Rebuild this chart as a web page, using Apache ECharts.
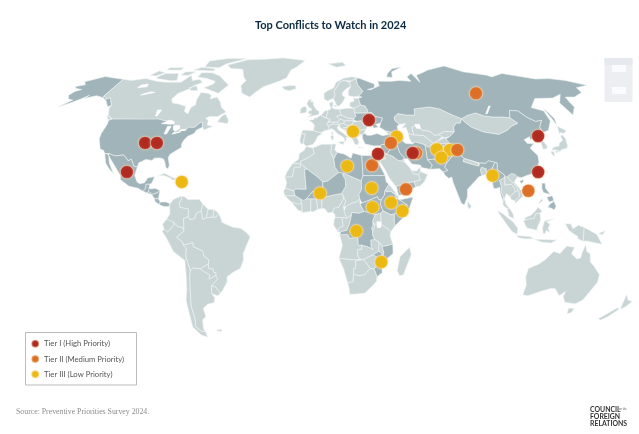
<!DOCTYPE html>
<html><head><meta charset="utf-8">
<style>html,body{margin:0;padding:0;background:#fff}#c{width:639px;height:434px}</style>
<script src="https://cdn.jsdelivr.net/npm/echarts@6/dist/echarts.min.js"></script>
</head><body><div id="c"></div>
<script>
// Marker positions [lon, lat]
const tierI = [[-96.8,37.5],[-90.1,37.5],[-102.3,23.7],[31.5,48.5],[34,32.3],[53.3,32.7],[127.1,40.8],[119.6,23.7]];
const tierII = [[107.2,62],[42,37.5],[55.1,32.7],[78.4,34.2],[30.2,26.9],[47.6,15.5],[112.6,14.8]];
const tierIII = [[-72.1,19],[1.9,13.6],[21.2,43],[45.9,40.5],[67,34.5],[74.3,34.2],[68.6,30.6],[16.7,26.5],[29.4,16.1],[29.6,7],[39.4,9.2],[45.3,5.2],[21,-4.3],[34.7,-19],[94.7,22]];
const tierNames = ['Tier I (High Priority)','Tier II (Medium Priority)','Tier III (Low Priority)'];
const tierColors = ['#b02a20','#dd6f26','#ecb912'];
const titleText = 'Top Conflicts to Watch in 2024';
const sourceText = 'Source: Preventive Priorities Survey 2024.';

// Country outlines, "lon lat lon lat ..." per polygon
const darkLand = {
USA:['-124.7 48.4 -123 49 -95.2 49 -94.6 48.7 -91 48.2 -88.4 48.3 -84.8 46.9 -83.5 46 -82.5 45.3 -82.4 43 -83 42 -79 42.8 -79 43.4 -76.5 43.6 -75 45 -71.5 45 -69.2 47.4 -68 47.2 -67 45 -70 43.7 -70.7 42 -74 40.6 -75.5 38.5 -76 37 -75.6 35.3 -78 33.9 -81 32 -81.4 30.5 -80 26.8 -80.4 25.2 -81.8 26 -82.8 28.5 -84 30 -86 30.4 -89 30.3 -90 29.2 -93.5 29.7 -97 28 -97.2 26 -99.2 26.5 -101.4 29.8 -103 29 -104.8 30.6 -106.5 31.8 -111 31.3 -114.8 32.5 -117.1 32.5 -118.5 34 -120.6 34.6 -122 36.8 -123.8 39.5 -124.3 42 -124 46.2',
 '-141 69.6 -141 60.3 -139 60 -137.5 58.9 -135.5 59.7 -133.5 58.2 -130.3 56 -131.5 55 -134 56.5 -136.5 58.2 -140 59.7 -146 60.7 -149 60 -152 59.3 -151 61 -154 59 -158 57 -163 55 -158.5 58.5 -162 59 -165 61 -164 63 -161 64 -166 64.6 -168 65.6 -163 66.6 -166.5 68.3 -157 71.2 -150 70.5'],
Mexico:['-114.8 32.5 -111 31.3 -106.5 31.8 -104.8 30.6 -103 29 -101.4 29.8 -99.2 26.5 -97.2 26 -97.8 22 -96 19 -94.5 18.2 -92 18.6 -90.5 21 -87 21.5 -88 18.5 -89 17.9 -91 17.9 -91 16 -92.2 14.6 -95 16 -100 17 -105 20 -105.5 22 -109 26 -112.5 29.5 -114.7 31.7','-117.1 32.5 -114.8 32 -113 28 -110.5 24.5 -109.5 23 -112 25 -115 28'],
Guatemala:['-92.2 14.6 -91 16 -91 17.9 -89 17.9 -89.2 15.9 -88.2 15.7 -89.3 14.4 -90 13.8'],
Honduras:['-89.2 15.9 -88.2 15.7 -86 16 -83.2 15 -84.5 13.9 -87.5 13 -89.3 14.4'],
Salvador:['-90 13.8 -89.3 14.4 -87.7 13.8 -88 13.2'],
Nicaragua:['-87.5 13 -84.5 13.9 -83.2 15 -83.7 11 -85.7 11.1'],
CostaRica:['-85.7 11.1 -83.7 11 -82.6 9.5 -83 8.2 -85.5 9.8'],
Panama:['-83 8.2 -82.6 9.5 -79.5 9.5 -77.4 8.6 -78 7.3 -80.5 7.3'],
Haiti:['-74.4 18.4 -71.7 18 -71.7 19.9 -73.3 19.9'],
Ukraine:['24 50.5 22.5 49.1 22.5 48.4 24.5 47.9 26.7 48.3 28.2 46 29.7 45.2 30.8 46.5 33 46 33.5 44.6 36.5 45.2 35 46.3 38.2 47.1 40 49.5 35.5 50.4 34 52.3 30.8 52 25 51.9 23.5 52'],
Kosovo:['20 43 20.7 43.2 21.7 42.5 20.6 42'],
Russia:['29 69.9 31 70.3 41 67 40 65 35 64 37 63.9 44 66 44 68.5 54 68.5 60 69 68 68.5 67 71 72 73 74 68 75 72 81 73.5 87 75 104 77.7 113 74 128 72 130 71 141 73 160 69.8 170 70 180 69 190 66.3 180 65 179 62.5 170 60 164 60 163 57.5 162.5 55 156.7 51 156 57 163 61.5 155 59.5 143 59.3 135 54.7 141 53 140 48 135 43.5 131 42.5 130.6 42.3 131 43 131 45 135 48.4 131 47.8 127.5 49.8 125 53 120 53.3 117 49.6 113 50 107 50 102 50.5 98 52 92 50.8 87.5 49.2 83 51 77 54 71 55 61 54 60 51 54.5 51 50 51.7 47 49.9 47 48.2 49 46.5 47.5 45.5 47.5 43.5 48.5 41.8 46.5 41.8 43.8 42.6 40 43.4 37 45 38.2 47.1 40 49.5 35.5 50.4 34 52.3 30.8 52 32 53 30.8 55.5 28 56 27.5 59.4 30 60 27.9 60.5 31.5 63 29 66.9','142 54.3 143 52 143.5 49 142 46 142 49','52 71 56 70.7 58 74 68 76.8 60 76 54 73'],
China:['73.7 39.5 76 40.4 80 42.8 80.5 45 83 47 85.5 47 87.5 49.2 88 48 91 45 97 42.7 105 41.6 111 43.5 115 45.5 119.8 47 117 49.6 120 53.3 125 53 127.5 49.8 131 47.8 135 48.4 131 45 131 43 130.6 42.3 126 41 124.3 39.9 121.5 39 122 40.5 118 39 119 37.3 122.5 37.3 119.3 35 122 31.5 121.5 28.5 119 25 116.5 23 113 22 110 21 108 21.5 106.7 22.7 105 23 101.8 21.2 101 22.4 98.8 24 97.7 24.7 98.5 28 94 29 92 27.8 88.9 28 81 30.2 78.5 32.5 78 35.5 75 37.3','108.7 19.3 110.5 20 111 19.5 109.5 18.2'],
Taiwan:['120 23 121.2 25.2 122 25 120.9 22'],
NKorea:['124.3 39.9 126 41 130.6 42.3 129.7 41 127.5 39.8 128.4 38.6 126.7 38 125 37.8 125.4 39.4'],
Turkey:['26.3 41.5 28 42 29 41.2 31.5 41.2 35 42 38 41 41.5 41.5 43.5 41 44.8 39.7 44.5 37.8 42.4 37.1 36.5 36.7 36 36.2 32 36.1 30 36.5 27.4 37 26.3 39.5'],
Armenia:['43.5 41 45 41.3 46.5 39 44.8 39.7'],
Azerbaijan:['46.5 41.8 48.5 41.8 50 40.3 49 38.4 46.5 39 45 41.3'],
Iran:['44.8 39.7 46.5 39 49 38.4 50 37.4 54 37 54 37.4 56 38 61 36.6 61 34 60.8 31.5 60.8 29.5 63 27 61.5 25 57 25.8 56.5 27 52 27.5 50 30 48.5 30 46 33 45.4 35.8 44.5 37.8'],
Iraq:['42.4 37.1 44.5 37.8 45.4 35.8 46 33 48.5 30 47.7 29.9 46.5 29.1 44.7 29.2 42 31.2 39 32.3 41 34.5 41.2 36.7'],
Syria:['36 36.2 36.5 36.7 42.4 37.1 41.2 36.7 41 34.5 39 32.3 36 33.3 35.9 35'],
Lebanon:['35.1 33.1 36 33.3 35.9 35'],
Israel:['34.3 31.3 35.1 33.1 35.7 33 35.5 31 35 29.5'],
Yemen:['43.3 17.3 45 17.4 49 18.6 52 19 53 16.7 48 14 45 12.8 43.5 12.7 42.7 16.4'],
Afghanistan:['61 36.6 62.5 35.3 66 37.3 68 37 71.5 37 74.9 37.3 71 36 71 34 69.5 33 69 31.5 66.5 31 66.3 29.9 60.8 29.5 60.8 31.5 61 34'],
Pakistan:['61.5 25 63 27 60.8 29.5 66.3 29.9 66.5 31 69 31.5 69.5 33 71 34 71 36 74.9 37.3 77.5 35.5 74.5 33 74.5 31 71 28 69.5 26 71 24.5 68.5 23.7 66.5 25.3'],
India:['77.5 35.5 78 35.5 78.5 32.5 81 30.2 80 28.7 84 27.5 88.2 26.5 88.9 28 92 27.8 94 29 97.5 28.3 94 24 93 22 92.5 23.7 91.5 24 92 25.2 89.5 26 88.5 24.5 89 22 87 21.3 85 19.5 80.3 15.5 80 12 78 8 76.5 9 73 19 72.7 21.3 71 20.7 69 22.3 68.5 23.7 71 24.5 69.5 26 71 28 74.5 31 74.5 33'],
Myanmar:['97.5 28.3 98.5 28 97.7 24.7 98.8 24 101 22.4 101 21.2 98 19.8 98.5 17 98 14 98.9 12 98.5 10 97.5 14 97.7 16.5 95.5 15.8 94.3 16 94 19 92.3 21 92.5 23.7 93 22 94 24'],
Philippines:['120.5 18.5 122.2 18.4 122 16 124 13 120.5 14 120 16','122 7 123.5 8.6 125.5 9.8 126.5 7.5 125.4 5.7 124 6.5','122 11.8 125 12.5 125.5 10.2 123 9.5','117.3 8.4 119.5 11.3 119.3 10'],
Libya:['11.5 33 15.2 32.3 19 30.3 20 32.7 25 31.6 25 22 24 19.5 15 23 12 23.5 10 26 9.5 30'],
Egypt:['25 31.6 31 31.4 34.3 31.3 35 28 33 29.5 36.9 22 31.5 22 25 22'],
Sudan:['24 19.5 25 22 31.5 22 36.9 22 37.3 19 38.6 18 36.5 15 36 12.7 34.3 10.5 33 10.5 32.3 12 27 10 24 9 22.9 11 22.5 13 24 15.5'],
SSudan:['24 9 27 10 32.3 12 33 10.5 34.3 10.5 33.8 8.5 35 5.4 33.8 4.2 30.8 3.5 28 4.5 25 5 23 8.5'],
Ethiopia:['36 12.7 36.5 15 37 14.3 39.5 14.5 42 12.8 42 11 43.2 11 48 8 44 4.9 41.5 3.9 39 3.5 35 5.4 33.8 8.5 34.3 10.5'],
Somalia:['43.2 11 44 10.5 51.2 11.9 49 6.5 46 2.4 41.5 -1.7 41 -0.8 41 3.9 41.5 3.9 44 4.9 48 8'],
DRC:['12.2 -6 13 -4.5 16 -4 17.5 -0.5 18.5 3.5 18.6 4.5 22.5 4.1 25 5 28 4.5 30.8 3.5 29.6 0.6 29.7 -1.4 29 -3 29.6 -4.5 29.5 -6 30.7 -8.3 28.7 -8.5 28.9 -12 30 -13 27.2 -11.8 24 -10.9 22 -11 22 -9.5 21.7 -7.2 17.5 -7.8 16.5 -5.9'],
Niger:['3.3 19 6 19.4 12 23.5 15 23 14 22.5 15.5 20 15.5 16.8 13.5 14 14 12.7 13 13.5 9 12.8 3.7 11.7 2.8 12.4 1 12.9 0.2 14.9 3.3 15.4'],
Mali:['-4.9 25 1 21 3.3 19 3.3 15.4 0.2 14.9 -2 14.3 -3 13.5 -5.3 11 -7 10.2 -8.5 11 -11.3 12.4 -12 14.7 -11.5 15.6 -5.5 15.5 -6.5 25'],
Burkina:['0.2 14.9 1 12.9 2.8 12.4 2.3 11.7 0 11 -3 11 -5.3 11 -3 13.5 -2 14.3'],
Mozambique:['34.7 -11.5 36 -11.5 40.4 -10.5 40.7 -15 37 -18 34.9 -20 35.5 -24 32.8 -26 32 -24 31 -22.3 32.8 -20.5 33 -17 30 -15.5 33 -14 34.5 -14.5 35.2 -17 35.8 -14.5']
};
const lightLand = {
Canada:['-141 69.6 -134 69 -125 70 -115 68.5 -108 68 -97 68 -94 72 -90 69 -85 69.5 -81.5 68 -86 66 -87 64.5 -93 62 -94.5 59 -92.5 57 -88 56.5 -82.5 55.2 -82 52.9 -79 51.5 -79 54.7 -77 56 -78 58.7 -78 62.4 -73 62 -70 61 -69.5 59 -65.5 60 -62 57.5 -60 55 -56 52.5 -60 50.2 -65 50.3 -67 49.3 -65 48.5 -64.5 46 -61 45.5 -65.5 43.7 -67 45 -68 47.2 -69.2 47.4 -71.5 45 -75 45 -76.5 43.6 -79 43.4 -79 42.8 -83 42 -82.4 43 -82.5 45.3 -83.5 46 -84.8 46.9 -88.4 48.3 -91 48.2 -94.6 48.7 -95.2 49 -123 49 -127 50.8 -130 54.3 -130.3 56 -133.5 58.2 -135.5 59.7 -137.5 58.9 -139 60 -141 60.3','-62 66.5 -66 62 -72 63.5 -78 65 -73 67 -73 68.5 -80 70 -88 71 -88 73.5 -80 73.5 -72 71.5 -67 69','-117 70 -105 68.8 -101 69 -105 73 -115 73 -118 71','-125 72 -120 71.5 -116 73.5 -122 74.5','-90 77 -78 76.5 -75 79 -65 82 -62 83 -78 83 -92 81','-96 75 -80 74.5 -80 75.8 -92 76.8','-117 75 -106 75 -106 76.5 -117 76.5','-102 72 -96 72 -93 74 -101 73.9','-86 63.5 -81 63.5 -84 66 -88 65','-59.3 47.7 -53 46.7 -52.8 48.5 -56 51.5 -57.5 50.5','-128 50.8 -125 50 -123.5 48.5 -125.5 48.8'],
Greenland:['-73 78.2 -68 76 -58 75.5 -54 71 -51 69 -53 66 -50 62 -44 60 -42 62 -37 65.5 -27 68.5 -22 70.5 -20 75 -16 77 -10 81.5 -30 83.5 -45 82.5 -60 82 -65 80.5'],
Iceland:['-24 65.5 -22 64 -18.5 63.4 -14 64.5 -15 66.2 -20 66'],
Cuba:['-84.9 21.9 -82 23.1 -77 21 -74.2 20.2 -77.5 19.9 -78 20.7 -82 22'],
Dominican:['-71.7 18 -68.4 18.5 -69.5 19.8 -71.7 19.9'],
Colombia:['-77.4 8.6 -75.5 10.8 -72 12.2 -71.3 11 -72.5 9 -72 7 -67.5 6.2 -67.5 2.5 -70 1.7 -69.8 -4.2 -70.8 -2.5 -73 -2.3 -75.2 -0.1 -77.5 0.4 -78.8 1.4 -77.2 4 -77.5 7'],
Venezuela:['-72 12.2 -70 12 -68 10.7 -62 10.7 -60 8.5 -60.8 5.2 -63.5 4 -64 1.5 -66.8 1.2 -67.5 2.5 -67.5 6.2 -72 7 -72.5 9 -71.3 11'],
Guyana:['-60 8.5 -57.2 6 -58 2 -60 1.2 -60.8 5.2'],
Suriname:['-57.2 6 -54 5.8 -54.5 2.3 -58 2'],
Guiana:['-54 5.8 -51.6 4.2 -52.8 2.3 -54.5 2.3'],
Ecuador:['-78.8 1.4 -75.2 -0.1 -75.2 -1.5 -78.4 -4.8 -80.3 -3.4 -81 -1'],
Peru:['-80.3 -3.4 -78.4 -4.8 -75.2 -1.5 -75.2 -0.1 -73 -2.3 -70.8 -2.5 -69.8 -4.2 -73.9 -7.3 -70.6 -9.5 -70.6 -11 -69 -12.5 -69.5 -15.5 -69.4 -17.5 -70.4 -18.3 -76 -14 -79 -8 -81.3 -4.5'],
Brazil:['-60 1.2 -58 2 -54.5 2.3 -52.8 2.3 -51.6 4.2 -50 1 -50 0 -48 -1 -44 -2.5 -40 -3 -37 -5 -35 -7 -37 -11 -39 -15 -39 -18 -41 -22 -45 -23.8 -48.5 -26 -48.8 -28.5 -52 -32.5 -53.4 -33.7 -55.5 -30.8 -57.6 -30.2 -53.8 -27 -54.6 -25.5 -54.3 -24 -55.5 -24 -55.8 -22.3 -58 -22 -58 -20 -57.5 -18 -60 -16.2 -60.5 -13.7 -65.4 -11.7 -65.3 -9.8 -70.6 -11 -70.6 -9.5 -73.9 -7.3 -69.8 -4.2 -70 1.7 -67.5 2.5 -66.8 1.2 -64 1.5 -63.5 4 -60.8 5.2'],
Bolivia:['-69 -12.5 -70.6 -11 -65.3 -9.8 -65.4 -11.7 -60.5 -13.7 -60 -16.2 -57.5 -18 -58 -20 -62.6 -22.2 -66.3 -21.8 -68 -23 -69.4 -17.5 -69.5 -15.5'],
Paraguay:['-58 -20 -58 -22 -55.8 -22.3 -55.5 -24 -54.3 -24 -54.6 -25.5 -58.6 -27.2 -57.7 -25.2 -60 -24 -62.6 -22.2'],
Chile:['-70.4 -18.3 -69.4 -17.5 -68 -23 -68.5 -25 -70 -33 -71.5 -40 -71.8 -46 -73 -50 -71 -52 -68.5 -52.4 -68.6 -55 -72 -54 -75 -50 -74 -43 -73.5 -37 -71.6 -32 -70.5 -25'],
Argentina:['-68 -23 -66.3 -21.8 -62.6 -22.2 -60 -24 -57.7 -25.2 -58.6 -27.2 -54.6 -25.5 -53.8 -27 -57.6 -30.2 -58.3 -34 -57 -36 -58 -38.3 -62 -39 -65 -41 -65 -45 -67.5 -46.5 -69 -51 -68.5 -52.4 -71 -52 -73 -50 -71.8 -46 -71.5 -40 -70 -33 -68.5 -25','-61 -51.2 -58 -51.2 -58.5 -52.2 -61 -52'],
Uruguay:['-57.6 -30.2 -55.5 -30.8 -53.4 -33.7 -54.9 -35 -58.3 -34'],
Portugal:['-9.5 38.7 -8.8 37 -7.4 37.2 -7 39.7 -6.4 41.9 -8.8 41.9'],
Spain:['-8.8 41.9 -6.4 41.9 -7 39.7 -7.4 37.2 -6 36.2 -5.3 36.1 -2 36.8 -0.3 38.8 0.5 40.5 3.2 42 1.5 42.6 -1.8 43.4 -8 43.7'],
France:['-1.8 43.4 1.5 42.6 3.2 42.5 4.5 43.4 7.5 43.8 7 45.5 6 46.3 8.2 49 6 49.5 4.5 50 2.5 51 0 49.5 -1.5 49.5 -1.5 48.7 -4.7 48.4 -2.5 47.3 -1.2 46','8.6 42.4 9.5 43 9.5 41.4 8.8 41.5'],
Benelux:['2.5 51 4.5 50 6 49.5 6.2 51 7 52 7 53.4 5 53 4 52 3.5 51.4'],
Germany:['6 49.5 8.2 49 7.6 47.6 13 47.5 13.8 48.7 12.2 50.3 15 51 14.5 53.8 11 54 9.8 54.8 8.7 54.9 8.8 53.8 7 53.4 7 52 6.2 51'],
Swiss:['6 46.3 7 45.8 10.4 46.6 9.6 47.5 7.6 47.6'],
Italy:['7.5 43.8 7 45.8 10.4 46.6 13.7 46.5 12.3 45 12.5 44 16 41.8 18.5 40 16.8 40.3 17 39 16 38 15.7 40 12 42 10.3 43.6 8.8 44.4','12.5 38 15.6 38.2 15.1 36.7 12.5 37.6','8.2 41 9.7 41 9.6 39.1 8.5 39'],
Austria:['9.6 47.5 10.4 46.6 13.7 46.5 16 46.8 17 48 15 49 13.8 48.7 13 47.5'],
Czechia:['12.2 50.3 13.8 48.7 15 49 17 48 22.5 48.4 22.5 49.1 19 49.5 15 51'],
Poland:['15 51 19 49.5 22.5 49.1 24 50.5 23.5 52 23.5 54.3 19.5 54.4 14.5 53.8'],
Hungary:['16 46.8 17 48 22.5 48.4 22 47.5 21 46.2 18.5 45.8'],
Romania:['21 46.2 22 47.5 24.5 47.9 26.7 48.3 28.2 46 29.7 45.2 28.6 43.8 25 43.7 22.5 44.2'],
Belarus:['23.5 52 25 51.9 30.8 52 32 53 30.8 55.5 28 56 26.5 55.5 23.5 54.3'],
Baltics:['21 55.3 23.5 54.3 26.5 55.5 28 56 27.5 59.4 24 59.3 24.4 58 21.5 57.2'],
Croatia:['13.7 46.5 16 46.8 18.5 45.8 19 44.9 15.8 44.8 18.5 42.5 13.6 45'],
Bosnia:['15.8 44.8 19 44.9 19 43 18.5 42.5'],
Serbia:['18.5 45.8 21 46.2 22.5 44.2 22.5 42.8 21.7 42.5 20.7 43.2 20 43 19 43 19 44.9'],
Albania:['18.5 42.5 19 43 20 43 20.6 42 21 40.9 20 39.7 19.3 41.5'],
Macedonia:['20.6 42 21.7 42.5 22.5 42.3 22.9 41.3 21 40.9'],
Bulgaria:['22.5 44.2 25 43.7 28.6 43.8 27.5 42 26.3 41.5 22.9 41.3 22.5 42.8'],
Greece:['20 39.7 21 40.9 22.9 41.3 26.3 41.5 24 40.8 23 40 24 38 23 36.5 21.7 36.8 21 38.3','23.6 35.6 26.3 35.2 23.6 35.2'],
UK:['-5.5 50 1.4 51.2 1.7 52.8 0 53.5 -2 56 -2 57.6 -4 57.7 -3 58.7 -5 58.6 -6.2 56.5 -4.8 54.9 -3 54 -3 53.3 -5 52.8 -5 51.7 -3 51.4'],
Ireland:['-10 51.8 -6.3 52.2 -6 54 -7 55.3 -8.5 55 -10 54'],
Denmark:['8.7 54.9 9.8 54.8 10.5 56 10.6 57.7 8.2 57','11 55.1 12.6 55.3 12.4 56 11 55.7'],
Norway:['5 59 7 58 10.5 59.2 11.2 59 12.3 61 12 63.5 14 65 16.5 68 20 69 25 68.7 29 69.9 31 70.3 26 71.1 20 70.2 14 68 12 65 8 63.5 5 62','10 79 16 76.8 24 78 22 80'],
Sweden:['11.2 59 13 55.5 14.3 55.5 16.5 57 18.8 59.8 17.3 61 17.5 62.5 21 64.7 24 65.8 23.5 68 20 69 16.5 68 14 65 12 63.5 12.3 61'],
Finland:['24 65.8 21.5 63 21.3 60.7 25 60.2 27.9 60.5 31.5 63 29 66.9 29 69.9 25 68.7 23.5 68'],
Kazakhstan:['47 49.9 50 51.7 54.5 51 60 51 61 54 71 55 77 54 83 51 87.5 49.2 85.5 47 83 47 80.5 45 80 42.8 74.5 43 70 41.5 68 41 66 43 62 43.5 58.5 45.6 56 45 56 41.3 53 42 52.5 45 50 44.5 53 46.8 49 46.5 47 48.2'],
Uzbekistan:['56 45 58.5 45.6 62 43.5 66 43 68 41 70 41.5 73 40.8 68 38.2 66 37.3 61.5 41 56 41.3'],
Turkmenistan:['53 42 56 41.3 61.5 41 66 37.3 62.5 35.3 61 36.6 56 38 54 37.4 53 39.5'],
Kyrgyzstan:['70 41.5 74.5 43 80 42.8 76 40.4 73 40'],
Tajikistan:['68 38.2 73 40 74.9 38.5 74.9 37.3 71.5 37 68 37'],
Mongolia:['87.5 49.2 92 50.8 98 52 102 50.5 107 50 113 50 117 49.6 119.8 47 115 45.5 111 43.5 105 41.6 97 42.7 91 45 88 48'],
SKorea:['126.7 38 128.4 38.6 129.4 36 128.5 34.8 126.3 34.5 126.7 37'],
Japan:['130.9 34 132.5 35.5 136 36 137 37.4 139.8 38.8 140 40.8 141.4 41.4 142 39.5 140.8 36 139.8 35 136.8 34.4 135 33.5 133 34.3','130 33.5 131.8 33.3 131 31.2 130 32','132.4 33.4 134.5 34 134 33.3 133 32.8','140 41.5 141.8 45.5 145.3 43.5 143 42 141 42.5'],
Georgia:['40 43.4 43.8 42.6 46.5 41.8 45 41.3 43.5 41 41.5 41.5'],
Jordan:['35.5 31 35.7 33 36 33.3 39 32.3 37 31.5 38 30 35 29.5'],
Saudi:['35 29.5 38 30 37 31.5 39 32.3 42 31.2 44.7 29.2 46.5 29.1 48 28.5 50 26.5 51.5 24.3 52 23 55 22.5 55.7 20 52 19 49 18.6 45 17.4 43.3 17.3 42.7 16.4 39 21 37 25 35 28'],
UAE:['51.5 24.3 54 24.2 56.3 26 56 24 55 22.5 52 23'],
Oman:['56 24 59.8 22.5 57.7 19 55 17 53 16.7 52 19 55.7 20 55 22.5'],
Kuwait:['47.7 29.9 48.4 28.5 46.5 29.1'],
Cyprus:['32.3 35 34.5 35.6 33.8 34.7'],
Nepal:['80 28.7 81 30.2 88.2 27.9 88.2 26.5 84 27.5'],
Bhutan:['88.9 28 92 27.8 92 26.8 89 26.8'],
Bangladesh:['88.5 24.5 89.5 26 92 25.2 91.5 24 92.5 23.7 92.3 21 91 22.5 89 22'],
SriLanka:['80 9.8 81.8 7.5 80.5 6 79.8 7.5'],
Thailand:['98 19.8 101 21.2 101 19.6 100.5 17.5 104 18 105.5 16 105.5 14.3 102.5 12 102 12.5 100.8 13.5 99.5 11 100 8.5 102 6.2 100.5 6.5 98.5 8 98.9 12 98 14 98.5 17'],
Laos:['101 22.4 102.2 22.4 103 20.8 106.5 16.9 107.5 15 105.5 14.3 105.5 16 104 18 100.5 17.5 101 19.6 101 21.2'],
Vietnam:['102.2 22.4 105 23 106.7 22.7 108 21.5 105.7 19 108.9 15 109.3 12 107 10.5 105 8.7 105 10 107.5 12 107.5 15 106.5 16.9 103 20.8'],
Cambodia:['102.5 12 105.5 14.3 107.5 15 107.5 12 105 10 103 10.7'],
Malaysia:['100.5 6.5 102 6.2 103.5 4 104 1.5 101.5 2.7','109.5 1.8 111.5 2.7 113 3.2 115 5 117 7 119 5 117.7 4.2 115.5 3.9 114.5 1.5 112.5 1.5 110 1'],
Indonesia:['109 0.5 110 1 112.5 1.5 114.5 1.5 115.5 3.9 117.7 4.2 118 1 116.5 -2 116 -4 114.5 -3.5 111 -3 110 -1.5','95.3 5.5 98 4 103.5 0 106 -3 105.8 -5.8 103 -4.5 100 -1 97 3','105.5 -6.5 108.5 -6.6 113 -7 114.5 -8 110 -8 106.5 -7.4','119.5 -5.5 119 -3 120 0.5 125 1.5 121 0 123 -1 122 -3 123 -5 121 -4 120.5 -5.6','115 -8.2 119 -8.3 125 -8.5 127 -8.4 124 -10 119 -9.5','131 -0.8 134 -1 135 -3.2 138 -1.6 141 -2.6 141 -9.1 138 -8 138 -7 133 -4'],
PNG:['141 -2.6 145 -4.5 148 -6 151 -10.5 147 -9.8 143 -9 141 -9.1','148.5 -5.5 152 -4.2 151 -6'],
Australia:['114 -22 113.5 -26 115 -30 115 -34.5 118 -35 124 -33 129 -31.5 131.5 -31.5 135.5 -35 138 -33 138 -35.5 140.5 -38 144 -38.5 147 -38.8 150 -37 151.5 -33 153.5 -28.5 153 -25 149 -21 146.5 -19 145.5 -15 143.5 -14 142.5 -10.8 141 -15 141 -17 139 -17.5 135.5 -15 136.8 -12 132.5 -11.5 129.5 -15 126 -14 122 -18 119 -20','144.7 -41 148 -41 148 -43 146 -43.6'],
NewZealand:['172.8 -34.5 175.5 -37 178.4 -37.7 176.8 -40 175 -41.6 174 -39.5','172.7 -40.6 174 -41.5 171 -45 168.5 -46.6 166.5 -46 170 -43'],
Madagascar:['49.3 -12 50.4 -15.5 47 -25 45 -25.5 43.5 -23 44.5 -16.5'],
Morocco:['-5.9 35.8 -2 35.1 -1.2 32.5 -3.6 31 -8.7 28.7 -8.7 27.7 -13 27.7 -9.8 29.8 -9.5 32.5 -6.8 34'],
WSahara:['-13 27.7 -8.7 27.7 -8.7 26 -12 26 -13 21.3 -17 21.3 -16 23.7'],
Algeria:['-2 35.1 3 36.9 8.6 36.9 8 33 9.5 30 10 26 12 23.5 6 19.4 3.3 19 1 21 -4.9 25 -8.7 27.7 -8.7 28.7 -3.6 31 -1.2 32.5'],
Tunisia:['8.6 36.9 11 37 10.2 34.3 11.5 33 9.5 30 8 33'],
Eritrea:['36.5 15 38.6 18 43 12.7 39.5 14.5 37 14.3'],
Djibouti:['42 12.8 43.3 12.5 43.2 11 42 11'],
Kenya:['33.9 0.2 33.8 4.2 35 5.4 39 3.5 41 3.9 41 -0.8 41.5 -1.7 39.2 -4.6 37.7 -3.5 34 -1'],
Uganda:['30 -1 34 -1 33.9 0.2 33.8 4.2 30.8 3.5 29.6 0.6'],
Tanzania:['30 -1 34 -1 37.7 -3.5 39.2 -4.6 38.8 -6.5 40.4 -10.5 36 -11.5 34.7 -11.5 33 -9.5 31 -8.5 29.5 -6'],
Rwanda:['29 -1.4 30.5 -1 30.6 -2.5 29.6 -4.5 29 -3'],
Congo:['11.2 -4.5 12 -2.5 14 -2 13.3 2.2 16 1.8 18.5 3.5 17.5 -0.5 16 -4 13 -4.5 12.2 -5'],
Gabon:['9.3 1 9.8 2.2 13.3 2.2 14 -2 12 -2.5 11.2 -4.5 9 -1.5'],
Cameroon:['8.5 4.7 9.7 3.5 9.8 2.2 13.3 2.2 16 1.8 15 4 14.2 7 15.5 9.9 14 12.7 14.2 11 13 9 11.5 6.8 10.2 6.8 9 6.4'],
CAR:['14.5 5 15 4 16 1.8 18.5 3.5 18.6 4.5 22.5 4.1 25 5 23 8.5 22.9 11 21 9.5 18.8 9 15.5 7.5'],
Chad:['14 12.7 15.5 9.9 14.2 7 15.5 7.5 18.8 9 21 9.5 22.9 11 22.5 13 24 15.5 24 19.5 15 23 14 22.5 15.5 20 15.5 16.8 13.5 14'],
Nigeria:['2.7 6.4 4.4 6.3 6 4.3 8.5 4.7 9 6.4 10.2 6.8 11.5 6.8 13 9 14.2 11 14 12.7 13 13.5 9 12.8 3.7 11.7 2.8 10'],
Mauritania:['-17 21.3 -13 21.3 -12 26 -8.7 26 -8.7 27.7 -4.9 25 -6.5 25 -5.5 15.5 -11.5 15.6 -12 14.7 -16.5 16 -16 19'],
Senegal:['-17.5 14.7 -16.5 16 -12 14.7 -11.3 12.4 -16.8 12.4'],
Guinea:['-16.8 12.4 -11.3 12.4 -8.5 11 -7.7 8.5 -10 8.5 -13.3 9.5'],
Liberia:['-13.3 9.5 -10 8.5 -7.7 8.5 -7.5 5 -9.5 5.5'],
Ivory:['-8.5 11 -5.3 11 -3 11 -3 5.1 -7.5 4.4 -7.7 8.5'],
Ghana:['-3 11 0 11 0.7 6 -2 4.8 -3 5.1'],
Benin:['0 11 2.3 11.7 2.8 10 2.7 6.4 0.7 6'],
Angola:['12.2 -6 16.5 -5.9 17.5 -7.8 21.7 -7.2 22 -9.5 22 -11 24 -10.9 24 -13 22 -13 22 -16.2 23.4 -17.6 21 -18 12 -17.3 13.7 -11'],
Namibia:['12 -17.3 21 -18 25.2 -17.8 21 -18.4 21 -22 20 -22 20 -28.4 17 -28.8 14.5 -22'],
Botswana:['21 -18.4 25.2 -17.8 29 -22 26 -25 23 -25.5 20 -24.8 20 -22 21 -22'],
Zambia:['22 -13 24 -13 24 -10.9 27.2 -11.8 30 -13 28.9 -12 28.7 -8.5 30.7 -8.3 33 -9.5 33 -14 30 -15.5 28 -16.5 25.2 -17.8 23.4 -17.6 22 -16.2'],
Zimbabwe:['25.2 -17.8 28 -16.5 30 -15.5 33 -17 32.8 -20.5 31 -22.3 29 -22'],
Malawi:['33 -9.5 34.7 -11.5 35.8 -14.5 35.2 -17 34.5 -14.5 33 -14'],
SouthAfrica:['17 -28.8 20 -28.4 20 -24.8 23 -25.5 26 -25 29 -22 31 -22.3 32 -24 32.8 -26 32.8 -28 31 -30 27 -33.7 22 -34.2 18.5 -34.3 18 -31.5']
};
const inlandWater = ['-92 46.8 -88 48.5 -85 47.8 -84.6 46.6 -87 46.5','-88 41.8 -86.5 41.8 -85.5 45.5 -87.7 45.5','-84.5 45.8 -81 46 -80 44.6 -81.7 43.2 -83.5 43.7','-83.4 41.7 -79 42.7 -79 43 -83 42.2','-79.7 43.3 -76.3 43.5 -76.5 44.1 -79.4 43.8','-117 61 -109 62.5 -112 62.8 -116 61.8','-124 65 -118 65.5 -119 67 -123 66.5','-98 50.5 -97 50.5 -96.5 53.5 -99 53.5','31.8 0.2 34 0 34 -2.5 32 -2.7','58.3 46.5 61 46.5 61 44.5 58.5 44.5','103.8 51.5 105 51.7 110 55.5 109 55.5'];

// Robinson projection tables, 5 degree steps
const PLEN=[1,.9986,.9954,.99,.9822,.973,.96,.9427,.9216,.8962,.8679,.835,.7986,.7597,.7186,.6732,.6213,.5722,.5322];
const PDFE=[0,.062,.124,.186,.248,.31,.372,.434,.4958,.5571,.6176,.6769,.7346,.7903,.8435,.8936,.9394,.9761,1];
const X0=316.5,Y0=222,KX=1.9,KY=170;
function tbl(t,a){a=Math.min(Math.abs(a),89.999)/5;const i=Math.floor(a);return t[i]+(t[i+1]-t[i])*(a-i);}
const projection={
 project(p){const la=p[1];return [X0+KX*tbl(PLEN,la)*p[0],Y0-KY*tbl(PDFE,la)*Math.sign(la)];},
 unproject(q){const v=Math.abs(Y0-q[1])/KY;let i=0;while(i<17&&PDFE[i+1]<v)i++;const a=5*(i+(v-PDFE[i])/(PDFE[i+1]-PDFE[i]));const la=a*Math.sign(Y0-q[1]);return [(q[0]-X0)/(KX*tbl(PLEN,la)),la];}
};
function feature(name,polys){return {type:'Feature',properties:{name},geometry:{type:'MultiPolygon',coordinates:polys.map(s=>{const n=s.trim().split(/\s+/).map(Number),r=[];for(let i=0;i<n.length;i+=2)r.push([n[i],n[i+1]]);r.push(r[0]);return [r];})}};}
const features=[];
Object.keys(lightLand).forEach(k=>features.push(feature(k,lightLand[k])));
Object.keys(darkLand).forEach(k=>features.push(feature(k,darkLand[k])));
features.push(feature('water',inlandWater));
echarts.registerMap('world',{type:'FeatureCollection',features});

// Extent of the projected outlines: the geo box is set to it so the projection's output is the final page position
let x1=1e9,x2=-1e9,y1=1e9,y2=-1e9;
features.forEach(f=>f.geometry.coordinates.forEach(pg=>pg[0].forEach(pt=>{const q=projection.project(pt);x1=Math.min(x1,q[0]);x2=Math.max(x2,q[0]);y1=Math.min(y1,q[1]);y2=Math.max(y2,q[1]);})));

const DARK='#a0b4ba',LIGHT='#c9d4d5',INK='#0d2a42';
const chart=echarts.init(document.getElementById('c'),null,{renderer:'canvas'});
function tier(i,data,z){return {type:'scatter',name:tierNames[i],coordinateSystem:'geo',geoIndex:0,z:z,data:data,symbolSize:13,silent:true,
 itemStyle:{color:tierColors[i],borderColor:'rgba(255,240,215,0.4)',borderWidth:1,shadowBlur:3,shadowColor:'rgba(255,225,190,0.6)',opacity:1}};}
chart.setOption({
 animation:false,backgroundColor:'#ffffff',
 title:{text:titleText,left:255,top:20,padding:0,textStyle:{color:INK,fontFamily:'Lato',fontWeight:'bold',fontSize:11}},
 legend:{orient:'vertical',left:30.5,top:339,padding:0,itemWidth:7.5,itemHeight:7.5,itemGap:5.8,icon:'circle',data:tierNames,selectedMode:false,
   textStyle:{color:'#555',fontFamily:'Lato',fontSize:7.7}},
 geo:{map:'world',projection,roam:false,silent:true,left:x1,top:y1,width:x2-x1,height:y2-y1,
   label:{show:false},
   itemStyle:{areaColor:LIGHT,borderColor:'#eef3f3',borderWidth:0.6},
   regions:Object.keys(darkLand).map(n=>({name:n,itemStyle:{areaColor:DARK}})).concat([{name:'water',itemStyle:{areaColor:'#fff',borderColor:'#fff'}}])},
 series:[tier(2,tierIII,3),tier(1,tierII,4),tier(0,tierI,5)],
 graphic:[
  {type:'rect',z:-1,shape:{x:25.5,y:332.5,width:111,height:52.5},style:{fill:'#fff',stroke:'#b9bdbd',lineWidth:1}},
  {type:'text',x:16,y:407.5,style:{text:sourceText,fill:'#8c8c8c',font:'7.8px "Liberation Serif"'}},
  {type:'rect',shape:{x:604.5,y:58,width:28,height:44},style:{fill:'#eceef2'}},
  {type:'rect',shape:{x:604.5,y:58,width:28,height:7},style:{fill:'#e6e9ed'}},
  {type:'rect',shape:{x:612,y:65,width:14,height:7},style:{fill:'#fbfbfd'}},
  {type:'rect',shape:{x:612,y:87,width:14,height:7},style:{fill:'#fbfbfd'}},
  {type:'text',x:590,y:406.5,style:{text:'COUNCIL',fill:'#333',font:'bold 6.9px Lato'}},
  {type:'text',x:619,y:408,style:{text:'on the',fill:'#666',font:'2.8px Lato'}},
  {type:'text',x:590,y:413.5,style:{text:'FOREIGN',fill:'#333',font:'bold 6.9px Lato'}},
  {type:'text',x:590,y:420,style:{text:'RELATIONS',fill:'#333',font:'bold 6.9px Lato'}}
 ]
});
</script></body></html>
